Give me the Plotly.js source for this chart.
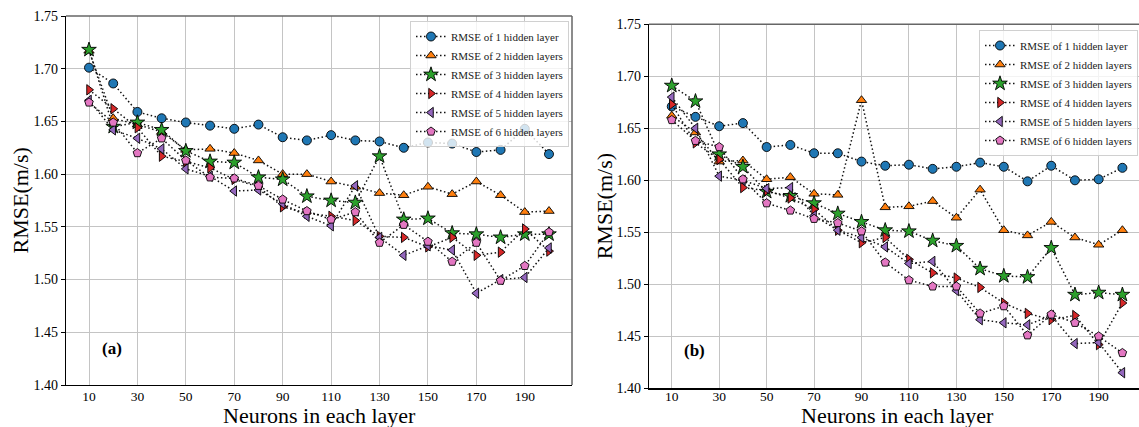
<!DOCTYPE html>
<html>
<head>
<meta charset="utf-8">
<script src="https://cdn.plot.ly/plotly-3.0.1.min.js"></script>
<style>html,body{margin:0;padding:0;background:#fff;}#chart{width:1139px;height:427px;}</style>
</head>
<body>
<div id="chart"></div>
<script>
const neurons = [10,20,30,40,50,60,70,80,90,100,110,120,130,140,150,160,170,180,190,200];
const xTickVals = [10,30,50,70,90,110,130,150,170,190];
const yTickVals = [1.40,1.45,1.50,1.55,1.60,1.65,1.70,1.75];
const seriesNames = ["RMSE of 1 hidden layer","RMSE of 2 hidden layers","RMSE of 3 hidden layers","RMSE of 4 hidden layers","RMSE of 5 hidden layers","RMSE of 6 hidden layers"];
const xTitle = "Neurons in each layer";
const yTitle = "RMSE(m/s)";

// (a)
const a1 = [1.701,1.686,1.659,1.653,1.649,1.646,1.643,1.647,1.635,1.632,1.637,1.632,1.631,1.625,1.630,1.629,1.621,1.623,1.643,1.619];
const a2 = [1.717,1.653,1.647,1.640,1.623,1.624,1.620,1.613,1.600,1.600,1.593,1.588,1.582,1.580,1.588,1.581,1.593,1.580,1.564,1.565];
const a3 = [1.718,1.645,1.649,1.642,1.622,1.612,1.611,1.597,1.595,1.579,1.575,1.573,1.617,1.557,1.558,1.544,1.543,1.540,1.543,1.543];
const a4 = [1.680,1.662,1.644,1.617,1.612,1.606,1.595,1.588,1.569,1.563,1.560,1.556,1.541,1.540,1.531,1.540,1.523,1.526,1.548,1.527];
const a5 = [1.670,1.642,1.634,1.624,1.605,1.598,1.584,1.585,1.572,1.560,1.551,1.589,1.540,1.523,1.532,1.528,1.487,1.500,1.502,1.530];
const a6 = [1.668,1.649,1.620,1.634,1.613,1.597,1.596,1.589,1.576,1.565,1.557,1.564,1.535,1.552,1.536,1.517,1.535,1.499,1.513,1.545];

// (b)
const b1 = [1.671,1.661,1.652,1.655,1.632,1.634,1.626,1.626,1.618,1.614,1.615,1.611,1.613,1.617,1.613,1.599,1.614,1.600,1.601,1.612];
const b2 = [1.662,1.646,1.618,1.619,1.601,1.603,1.587,1.586,1.677,1.574,1.575,1.580,1.564,1.591,1.552,1.547,1.560,1.545,1.538,1.552];
const b3 = [1.691,1.676,1.625,1.613,1.589,1.585,1.578,1.568,1.560,1.552,1.551,1.542,1.537,1.515,1.508,1.507,1.535,1.490,1.492,1.490];
const b4 = [1.673,1.636,1.620,1.593,1.590,1.583,1.572,1.552,1.540,1.545,1.524,1.511,1.506,1.497,1.482,1.472,1.466,1.470,1.442,1.482];
const b5 = [1.680,1.650,1.604,1.600,1.592,1.593,1.566,1.552,1.545,1.536,1.520,1.522,1.494,1.466,1.463,1.461,1.470,1.443,1.444,1.415];
const b6 = [1.658,1.638,1.632,1.601,1.578,1.571,1.563,1.559,1.551,1.521,1.504,1.498,1.498,1.472,1.479,1.451,1.471,1.463,1.450,1.434];

const colors = ["#1f77b4","#ff7f0e","#2ca02c","#d62728","#9467bd","#e377c2"];
const symbols = ["circle","triangle-up","star","triangle-right","triangle-left","pentagon"];
const sizes = [9,9,11,9,9,9];

const aSeries = [a1,a2,a3,a4,a5,a6];
const bSeries = [b1,b2,b3,b4,b5,b6];

const traces = [];
function addTraces(series, xa, ya, leg) {
  series.forEach((vals, i) => {
    traces.push({
      x: neurons, y: vals, xaxis: xa, yaxis: ya, legend: leg,
      name: seriesNames[i], type: "scatter", mode: "lines+markers",
      line: {color: "#111", width: 1.5, dash: "1.5px,2.5px"},
      marker: {color: colors[i], symbol: symbols[i], size: sizes[i], line: {color: "#000", width: 0.9}}
    });
  });
}
addTraces(aSeries, "x", "y", "legend");
addTraces(bSeries, "x2", "y2", "legend2");

const W = 1139, H = 427;
const fontFam = "Liberation Serif";
function xax(domain, range, standoff) {
  return {
    domain: domain, range: range, tickvals: xTickVals, ticktext: xTickVals.map(String),
    showgrid: true, gridcolor: "#c4c4c4", gridwidth: 1, zeroline: false,
    showline: true, linecolor: "#000", linewidth: 1.2, mirror: false,
    ticks: "", ticklabelstandoff: standoff,
    tickfont: {family: fontFam, size: 13.5, color: "#000"}
  };
}
function yax(domain, anchor) {
  return {
    domain: domain, range: [1.40, 1.75], tickvals: yTickVals, ticktext: yTickVals.map(v => v.toFixed(2)),
    anchor: anchor,
    showgrid: true, gridcolor: "#c4c4c4", gridwidth: 1, zeroline: false,
    showline: true, linecolor: "#000", linewidth: 1.2, mirror: false,
    ticks: "outside", ticklen: 4, tickcolor: "#000",
    tickfont: {family: fontFam, size: 14, color: "#000"}
  };
}
const titleFont = {family: fontFam, size: 22, color: "#000"};

const layout = {
  width: W, height: H,
  margin: {l: 0, r: 0, t: 0, b: 0},
  paper_bgcolor: "#fff", plot_bgcolor: "#fff",
  showlegend: true,
  font: {family: fontFam, color: "#000"},
  xaxis: Object.assign(xax([66/W, 572/W], [0.5, 209.5], -1), {anchor: "y"}),
  yaxis: yax([(H-385)/H, (H-16)/H], "x"),
  xaxis2: Object.assign(xax([649/W, 1], [0.4, 207.0], -5), {anchor: "y2"}),
  yaxis2: yax([(H-388.3)/H, (H-24.3)/H], "x2"),
  legend: {
    x: 410/W, y: (H-21)/H, xanchor: "left", yanchor: "top",
    bgcolor: "rgba(255,255,255,0.8)", bordercolor: "#d0d0d0", borderwidth: 1,
    font: {family: fontFam, size: 11, color: "#222"}, tracegroupgap: 0, itemwidth: 30
  },
  legend2: {
    x: 1138/W, y: (H-30)/H, xanchor: "right", yanchor: "top",
    bgcolor: "rgba(255,255,255,0.8)", bordercolor: "#d0d0d0", borderwidth: 1,
    font: {family: fontFam, size: 11, color: "#222"}, tracegroupgap: 0, itemwidth: 30
  },
  shapes: [
    {type: "line", xref: "x domain", yref: "y domain", x0: 0, x1: 1, y0: 1, y1: 1, line: {color: "#666", width: 1.5}},
    {type: "line", xref: "x domain", yref: "y domain", x0: 1, x1: 1, y0: 0, y1: 1, line: {color: "#666", width: 1.5}},
    {type: "line", xref: "x2 domain", yref: "y2 domain", x0: 0, x1: 1, y0: 1, y1: 1, line: {color: "#666", width: 1.5}}
  ],
  annotations: [
    {text: "<b>(a)</b>", x: 19.5, y: 1.435, xref: "x", yref: "y", showarrow: false, font: {family: fontFam, size: 17, color: "#000"}},
    {text: "<b>(b)</b>", x: 19.5, y: 1.436, xref: "x2", yref: "y2", showarrow: false, font: {family: fontFam, size: 17, color: "#000"}},
    {text: xTitle, x: 319/W, y: (H-415)/H, xref: "paper", yref: "paper", xanchor: "center", yanchor: "middle", showarrow: false, font: titleFont},
    {text: xTitle, x: 897/W, y: (H-415)/H, xref: "paper", yref: "paper", xanchor: "center", yanchor: "middle", showarrow: false, font: titleFont},
    {text: yTitle, x: 20/W, y: (H-200.5)/H, xref: "paper", yref: "paper", xanchor: "center", yanchor: "middle", textangle: -90, showarrow: false, font: titleFont},
    {text: yTitle, x: 604/W, y: (H-206.3)/H, xref: "paper", yref: "paper", xanchor: "center", yanchor: "middle", textangle: -90, showarrow: false, font: titleFont}
  ]
};

Plotly.newPlot("chart", traces, layout, {displayModeBar: false, staticPlot: true});
</script>
</body>
</html>
